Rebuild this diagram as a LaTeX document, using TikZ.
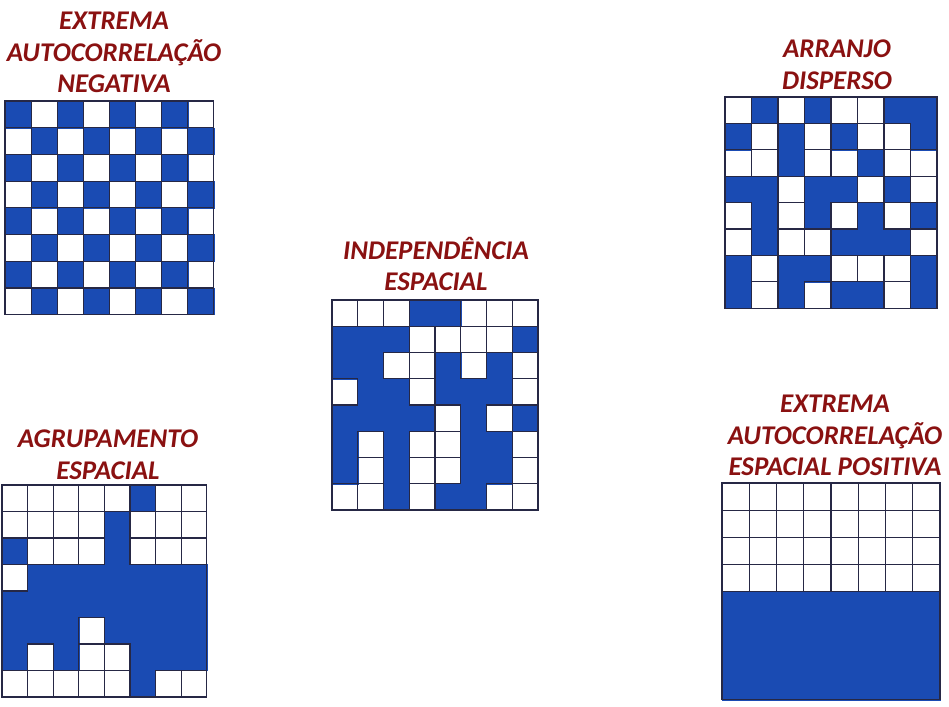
\documentclass[tikz,border=0pt]{standalone}
\usepackage{fontspec}
\setmainfont{Carlito}
\usepackage{tikz}
\usetikzlibrary{positioning}
\definecolor{titlered}{HTML}{8A1111}
\definecolor{cellblue}{HTML}{1A4BB3}
\definecolor{gridline}{HTML}{262845}
\tikzset{
  title/.style={align=center,text=titlered,inner sep=0pt,anchor=north,
                font=\bfseries\itshape\fontsize{27}{31.5}\selectfont},
  fillcell0/.style={},
  fillcell1/.style={fill=cellblue,draw=cellblue,line width=0.4pt},
  edgecell0/.style={draw=gridline,line width=1.2pt},
  edgecell1/.style={},
  gridframe/.style={draw=gridline,line width=1.2pt},
}
\newcommand{\cellgrid}[1]{%
  \foreach \row [count=\r from 0] in {#1}
    \foreach \v [count=\c from 0] in \row
      \path[fillcell\v] (\c,\r) rectangle ++(1,1);
  \foreach \row [count=\r from 0] in {#1}
    \foreach \v [count=\c from 0] in \row
      \path[edgecell\v] (\c,\r) rectangle ++(1,1);
  \draw[gridframe] (0,0) rectangle (8,8);
}

\begin{document}
\begin{tikzpicture}[x=1pt,y=-1pt]
  \useasboundingbox[fill=white] (0,0) rectangle (949,706);
  \node[title] (negativa) at (114,12) {EXTREMA\\ AUTOCORRELAÇÃO\\ NEGATIVA};
  \node[title] (disperso) at (837,40) {ARRANJO\\ DISPERSO};
  \node[title] (independencia) at (436,237) {INDEPENDÊNCIA\\ ESPACIAL};
  \node[title] (agrupamento) at (108,430) {AGRUPAMENTO\\ ESPACIAL};
  \node[title] (positiva) at (835,395) {EXTREMA\\ AUTOCORRELAÇÃO\\ ESPACIAL POSITIVA};
  \begin{scope}[shift={(5,101)},x=26.1pt,y=-26.7pt]
    \cellgrid{{1,0,1,0,1,0,1,0},{0,1,0,1,0,1,0,1},{1,0,1,0,1,0,1,0},{0,1,0,1,0,1,0,1},
              {1,0,1,0,1,0,1,0},{0,1,0,1,0,1,0,1},{1,0,1,0,1,0,1,0},{0,1,0,1,0,1,0,1}}
  \end{scope}
  \begin{scope}[shift={(725,97)},x=26.5pt,y=-26.4pt]
    \cellgrid{{0,1,0,1,0,0,1,1},{1,0,1,0,1,0,0,1},{0,0,1,0,0,1,0,0},{1,1,0,1,1,0,1,0},
              {0,1,0,1,0,1,0,1},{0,1,0,0,1,1,1,0},{1,0,1,1,0,0,0,1},{1,0,1,0,1,1,0,1}}
  \end{scope}
  \begin{scope}[shift={(332,300)},x=25.75pt,y=-26.25pt]
    \cellgrid{{0,0,0,1,1,0,0,0},{1,1,1,0,0,0,0,1},{1,1,0,0,1,0,1,0},{0,1,1,0,1,1,1,0},
              {1,1,1,1,0,1,0,1},{1,0,1,0,0,1,1,0},{1,0,1,0,0,1,1,0},{0,0,1,0,1,1,0,0}}
  \end{scope}
  \begin{scope}[shift={(2,485)},x=25.6pt,y=-26.5pt]
    \cellgrid{{0,0,0,0,0,1,0,0},{0,0,0,0,1,0,0,0},{1,0,0,0,1,0,0,0},{0,1,1,1,1,1,1,1},
              {1,1,1,1,1,1,1,1},{1,1,1,0,1,1,1,1},{1,0,1,0,0,1,1,1},{0,0,0,0,0,1,0,0}}
  \end{scope}
  \begin{scope}[shift={(722,483)},x=27.25pt,y=-27.1pt]
    \cellgrid{{0,0,0,0,0,0,0,0},{0,0,0,0,0,0,0,0},{0,0,0,0,0,0,0,0},{0,0,0,0,0,0,0,0},
              {1,1,1,1,1,1,1,1},{1,1,1,1,1,1,1,1},{1,1,1,1,1,1,1,1},{1,1,1,1,1,1,1,1}}
  \end{scope}
\end{tikzpicture}
\end{document}
